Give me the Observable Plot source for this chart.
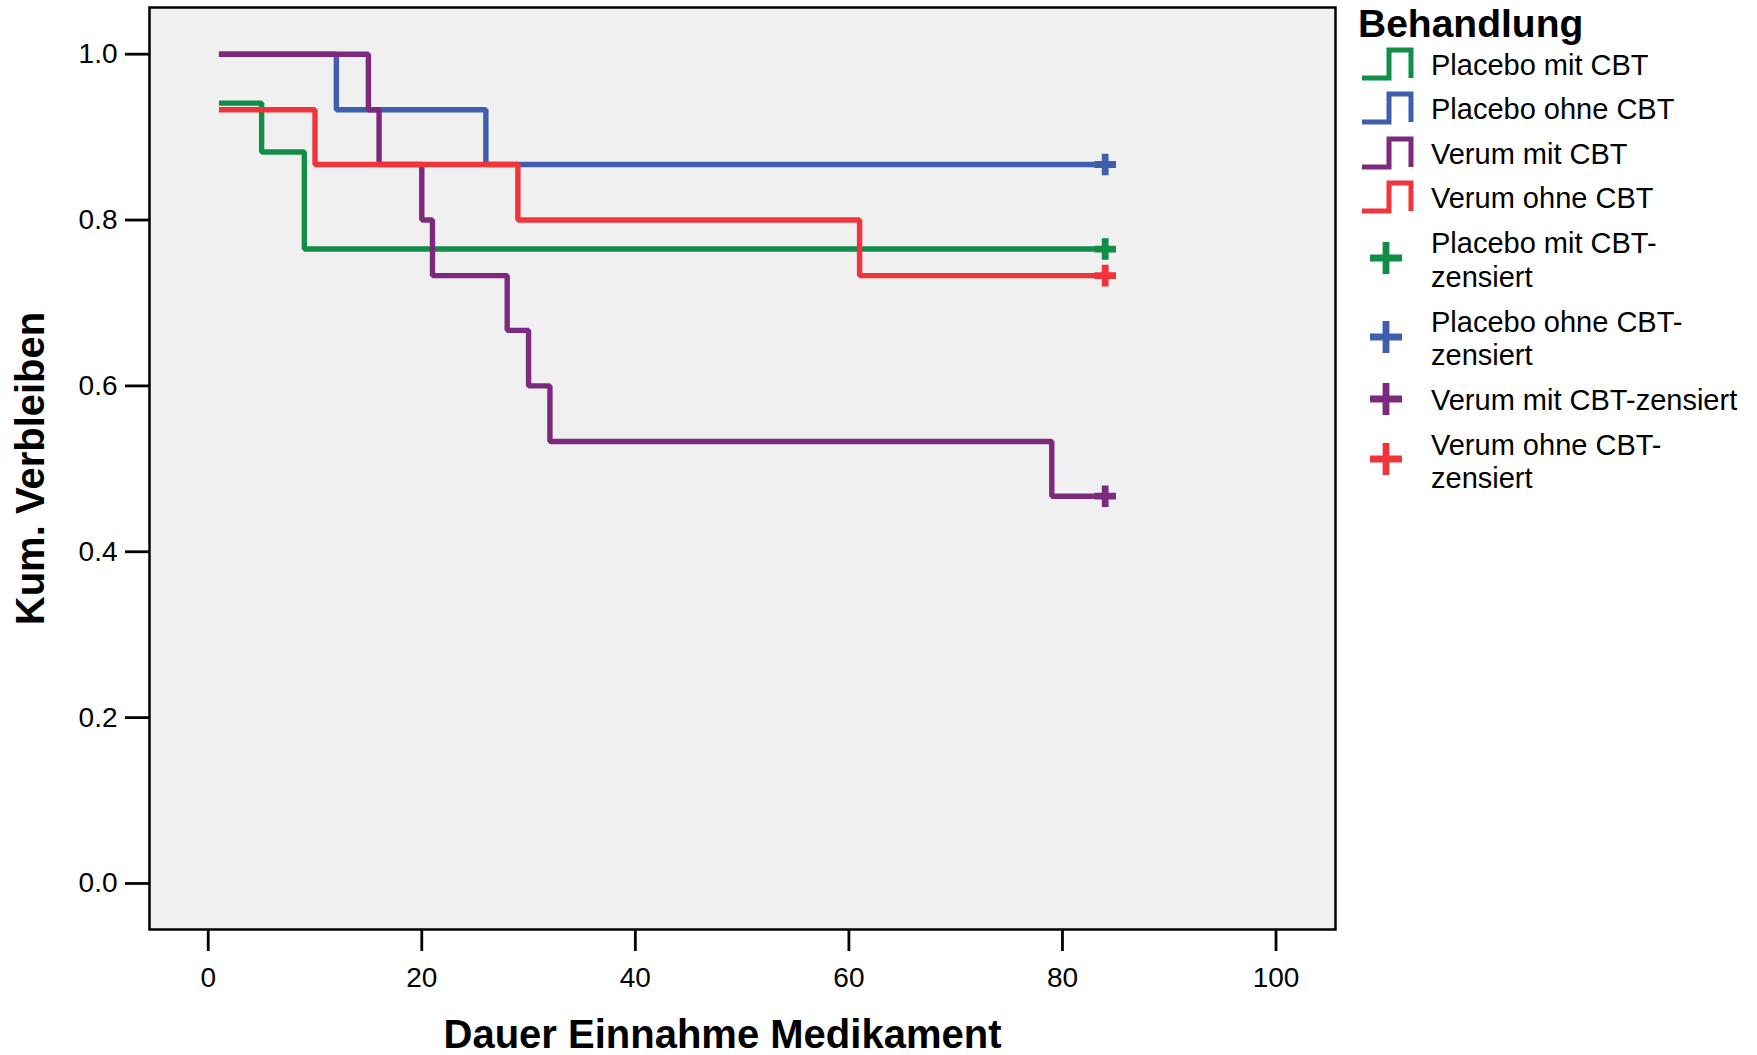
<!DOCTYPE html>
<html><head><meta charset="utf-8">
<script src="https://cdn.jsdelivr.net/npm/d3@7"></script>
<script src="https://cdn.jsdelivr.net/npm/@observablehq/plot@0.6"></script>
<style>
body{margin:0;background:#fff;}
#wrap{position:relative;width:1757px;height:1055px;}
</style></head><body><div id="wrap"></div>
<script>
const seriesNames = ["Placebo mit CBT","Placebo ohne CBT","Verum mit CBT","Verum ohne CBT"];
const seriesColors = ["#118d48","#3f5eae","#7d2a7e","#ef343b"];
const placeboMitTimes = [1,5,9,84];
const placeboMitSurv  = [0.941,0.882,0.765,0.765];
const placeboOhneTimes = [1,12,26,84];
const placeboOhneSurv  = [1.0,0.933,0.867,0.867];
const verumMitTimes = [1,15,16,20,21,28,30,32,79,84];
const verumMitSurv  = [1.0,0.933,0.867,0.8,0.733,0.667,0.6,0.533,0.467,0.467];
const verumOhneTimes = [1,10,29,61,84];
const verumOhneSurv  = [0.933,0.867,0.8,0.733,0.733];
const censorTimes = [84,84,84,84];
const censorSurv  = [0.765,0.867,0.467,0.733];
const censorLabels = [["Placebo mit CBT-","zensiert"],["Placebo ohne CBT-","zensiert"],["Verum mit CBT-zensiert"],["Verum ohne CBT-","zensiert"]];
const legendTitle = "Behandlung";
const xTitle = "Dauer Einnahme Medikament";
const yTitle = "Kum. Verbleiben";
const xTicks = [0,20,40,60,80,100];
const yTicks = [0,0.2,0.4,0.6,0.8,1.0];

const allTimes = [placeboMitTimes, placeboOhneTimes, verumMitTimes, verumOhneTimes];
const allSurv = [placeboMitSurv, placeboOhneSurv, verumMitSurv, verumOhneSurv];
const rows = [];
seriesNames.forEach((s,i)=>allTimes[i].forEach((t,j)=>rows.push({series:s,time:t,surv:allSurv[i][j]})));
const censorRows = seriesNames.map((s,i)=>({series:s,time:censorTimes[i],surv:censorSurv[i]}));

const font = '"Liberation Sans", Arial, sans-serif';
const chart = Plot.plot({
  width:1757, height:1055,
  marginLeft:149, marginRight:422, marginTop:7, marginBottom:126,
  style:{fontFamily:font, fontSize:"28px", color:"#000", background:"#fff", overflow:"visible"},
  x:{domain:[-5.5,105.57]},
  y:{domain:[-0.0555,1.0563]},
  color:{domain:seriesNames, range:seriesColors},
  marks:[
    Plot.frame({fill:"#f0f0f0"}),
    Plot.line(rows,{x:"time",y:"surv",z:"series",stroke:"series",curve:"step-after",strokeWidth:5.4,strokeLinejoin:"miter",strokeLinecap:"butt"}),
    Plot.dot(censorRows,{x:"time",y:"surv",stroke:"series",symbol:"plus",r:7,strokeWidth:6.8}),
    Plot.frame({stroke:"#000",strokeWidth:2.5}),
    Plot.axisX({ticks:xTicks, tickSize:22, tickPadding:16, strokeWidth:2.8, label:null, fontSize:28}),
    Plot.axisY({ticks:yTicks, tickSize:24, tickPadding:8, strokeWidth:2.8, tickFormat:d3.format(".1f"), label:null, fontSize:28}),
    Plot.text([xTitle],{frameAnchor:"bottom",textAnchor:"middle",lineAnchor:"middle",dx:-20,dy:106,fontSize:40,fontWeight:"bold",fill:"#000"}),
    Plot.text([yTitle],{frameAnchor:"left",textAnchor:"middle",lineAnchor:"middle",dx:-118,rotate:-90,fontSize:40,fontWeight:"bold",fill:"#000"})
  ]
});
document.getElementById("wrap").appendChild(chart);

// Legend
const svg = d3.select(chart);
const lg = svg.append("g").attr("font-family",font).attr("fill","#000").attr("text-anchor","start");
lg.append("text").attr("x",1358).attr("y",37).attr("font-size",39).attr("font-weight","bold").text(legendTitle);
const stepCenters = [64,108,153,197];
seriesNames.forEach((s,i)=>{
  const c = stepCenters[i];
  lg.append("path").attr("d",`M1362,${c+14}H1389V${c-14}H1411V${c+14}`)
    .attr("fill","none").attr("stroke",seriesColors[i]).attr("stroke-width",5).attr("stroke-linejoin","miter");
  lg.append("text").attr("x",1431).attr("y",c+1).attr("dy","0.35em").attr("font-size",29).text(s);
});
const plusCenters = [258,337,399,459];
const lineCenters = [[243,277],[322,355],[400],[445,478]];
seriesNames.forEach((s,i)=>{
  const c = plusCenters[i];
  lg.append("path").attr("d",`M1370,${c}H1402M1386,${c-16}V${c+16}`)
    .attr("fill","none").attr("stroke",seriesColors[i]).attr("stroke-width",6.8);
  censorLabels[i].forEach((t,k)=>{
    lg.append("text").attr("x",1431).attr("y",lineCenters[i][k]).attr("dy","0.35em").attr("font-size",29).text(t);
  });
});
</script></body></html>
